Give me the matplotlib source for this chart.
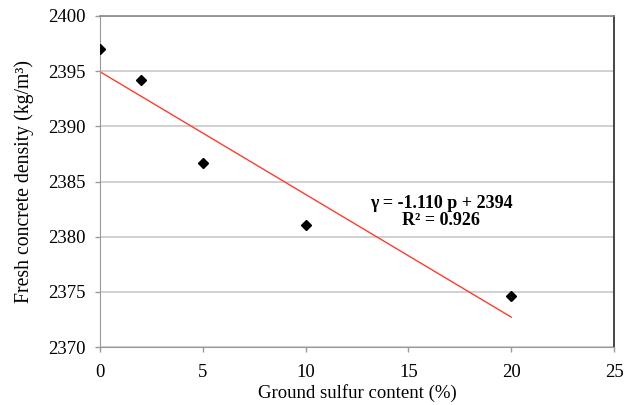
import numpy as np
import matplotlib
matplotlib.use("Agg")
import matplotlib.pyplot as plt

plt.rcParams['font.family'] = ['Liberation Serif', 'DejaVu Serif']

sulfur = [0, 2, 5, 10, 20]
density = [2397.0, 2394.2, 2386.7, 2381.1, 2374.6]
xticks = [0, 5, 10, 15, 20, 25]
yticks = [2370, 2375, 2380, 2385, 2390, 2395, 2400]

fig = plt.figure(figsize=(6.33, 4.05), dpi=100)
ax = fig.add_axes([0.158, 0.1432, 0.812, 0.8173])

for yv in yticks:
    ax.axhline(yv, color='#c8c8c8', lw=1.2, zorder=0)

slope, intercept = np.polyfit(sulfur, density, 1)
xl = np.array([min(sulfur), max(sulfur)])
ax.plot(xl, slope * xl + intercept, color='#ff3b2f', lw=1.0, zorder=2)

ax.plot(sulfur, density, linestyle='none', marker='D', color='black',
        markersize=5, zorder=3)

ax.set_xlim(0, 25)
ax.set_ylim(2370, 2400)
ax.set_xticks(xticks)
ax.set_yticks(yticks)
ax.tick_params(axis='both', labelsize=13.5, direction='out', length=3.5,
               color='#999999', width=1)
ax.tick_params(axis='y', pad=7)
ax.tick_params(axis='x', pad=9)

for s in ['left', 'bottom']:
    ax.spines[s].set_color('#999999')
ax.spines['top'].set_color('#888888')
ax.spines['right'].set_color('#444444')
ax.spines['right'].set_linewidth(1.4)
ax.spines['top'].set_linewidth(1.2)

ax.set_xlabel('Ground sulfur content (%)', fontsize=13.5, labelpad=2)
ax.set_ylabel('Fresh concrete density (kg/m³)', fontsize=14.2, labelpad=10)

ax.text(16.6, 2382.2, 'γ = -1.110 p + 2394\nR² = 0.926', ha='center',
        va='center', fontsize=13, fontweight='bold', linespacing=1.0)

fig.savefig('out.png', dpi=100)
